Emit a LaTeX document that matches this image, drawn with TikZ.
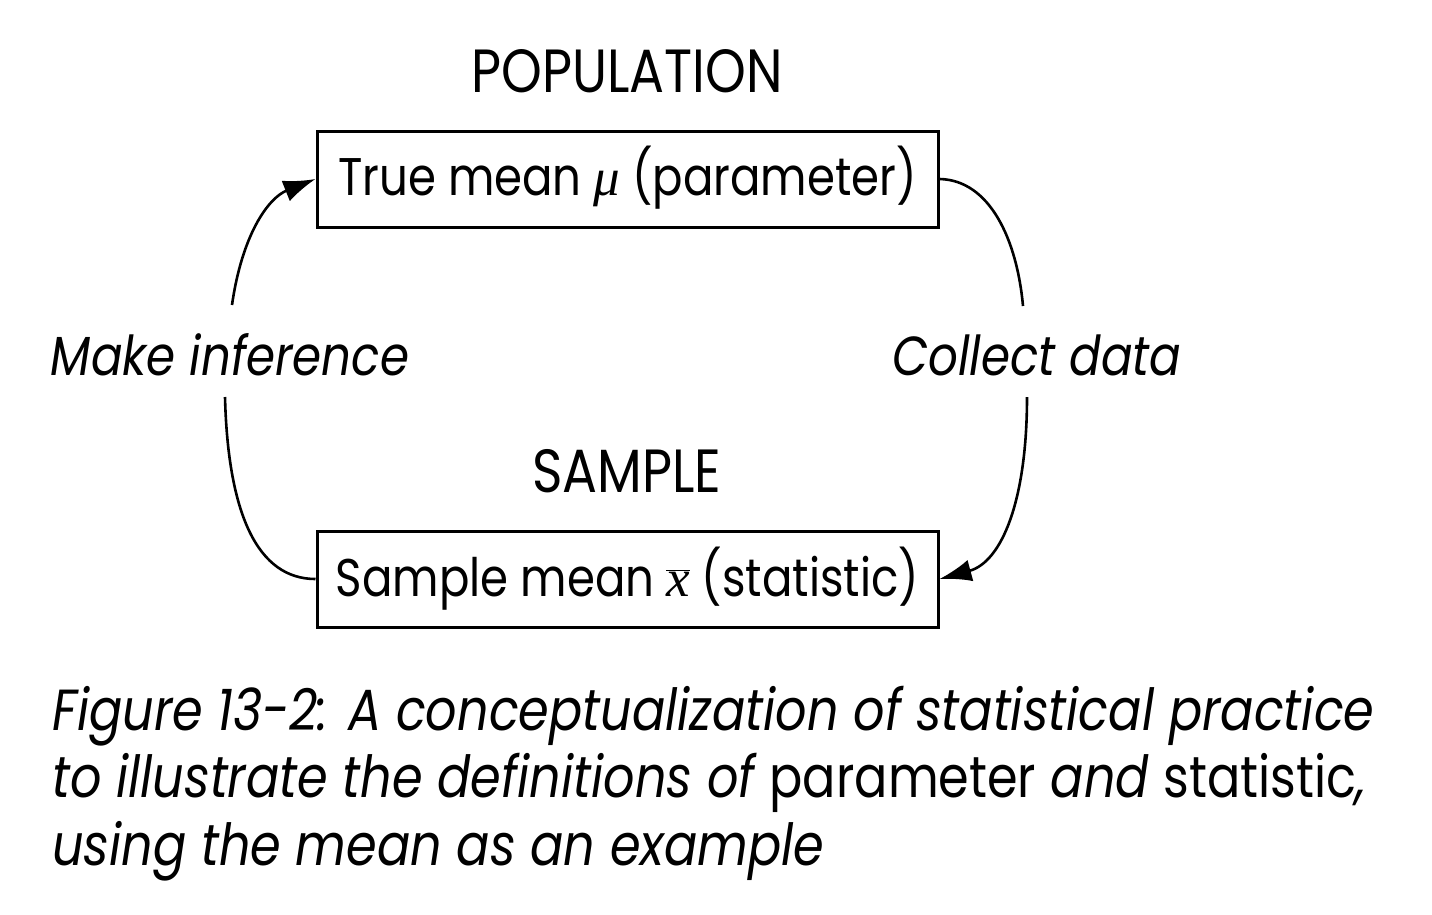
\documentclass[tikz,border=0pt]{standalone}
\usepackage{fontspec}
\setmainfont{Poppins}[FakeStretch=0.85]
\newfontfamily\serifm{Liberation Serif}
\usetikzlibrary{arrows.meta}
\tikzset{
  box/.style={draw, line width=3pt, minimum width=621pt, minimum height=96pt, inner sep=0pt},
  head/.style={font=\fontsize{61}{70}\selectfont, anchor=base},
  boxtxt/.style={font=\fontsize{53}{60}\selectfont},
  side/.style={font=\fontsize{55}{60}\selectfont\itshape, anchor=base},
  captxt/.style={font=\fontsize{58}{66}\selectfont\itshape, anchor=base west, inner sep=0pt},
  conn/.style={line width=2.6pt},
  tip/.style={-{Latex[length=32pt,width=22pt]}}
}
\begin{document}
\begin{tikzpicture}[x=1pt,y=-1pt]
\useasboundingbox (0,0) rectangle (1432,914);
\node[head] (pop) at (627,92) {POPULATION};
\node[box] (top) at (627.5,179) {};
\node[boxtxt, anchor=base] (toptxt) at (627.5,195) {True mean {\serifm\itshape μ} (parameter)};
\node[head] (samp) at (627,492) {SAMPLE};
\node[box] (bot) at (627.5,579) {};
\node[boxtxt, anchor=base] (bottxt) at (627.5,596) {Sample mean $\overline{\hbox{\serifm\itshape x}}$ (statistic)};
\node[side] (inf) at (230,375) {Make inference};
\node[side] (col) at (1037,375) {Collect data};
\coordinate (lu) at (232,305);
\coordinate (ru) at (1023,306);
\coordinate (rl) at (1027,397);
\coordinate (ll) at (225,397);
\draw[conn, tip] (lu) .. controls (242,235) and (268,198) .. (top.west);
\draw[conn] (top.east) .. controls (990,180) and (1017,240) .. (ru);
\draw[conn, tip] (rl) .. controls (1027,500) and (1002,562) .. (bot.east);
\draw[conn] (ll) .. controls (228,515) and (258,579) .. (bot.west);
\node[captxt] (cap1) at (52,730) {Figure 13-2: A conceptualization of statistical practice};
\node[captxt] (cap2) at (52,797) {to illustrate the definitions of {\upshape parameter} and {\upshape statistic},};
\node[captxt] (cap3) at (52,865) {using the mean as an example};
\end{tikzpicture}
\end{document}
